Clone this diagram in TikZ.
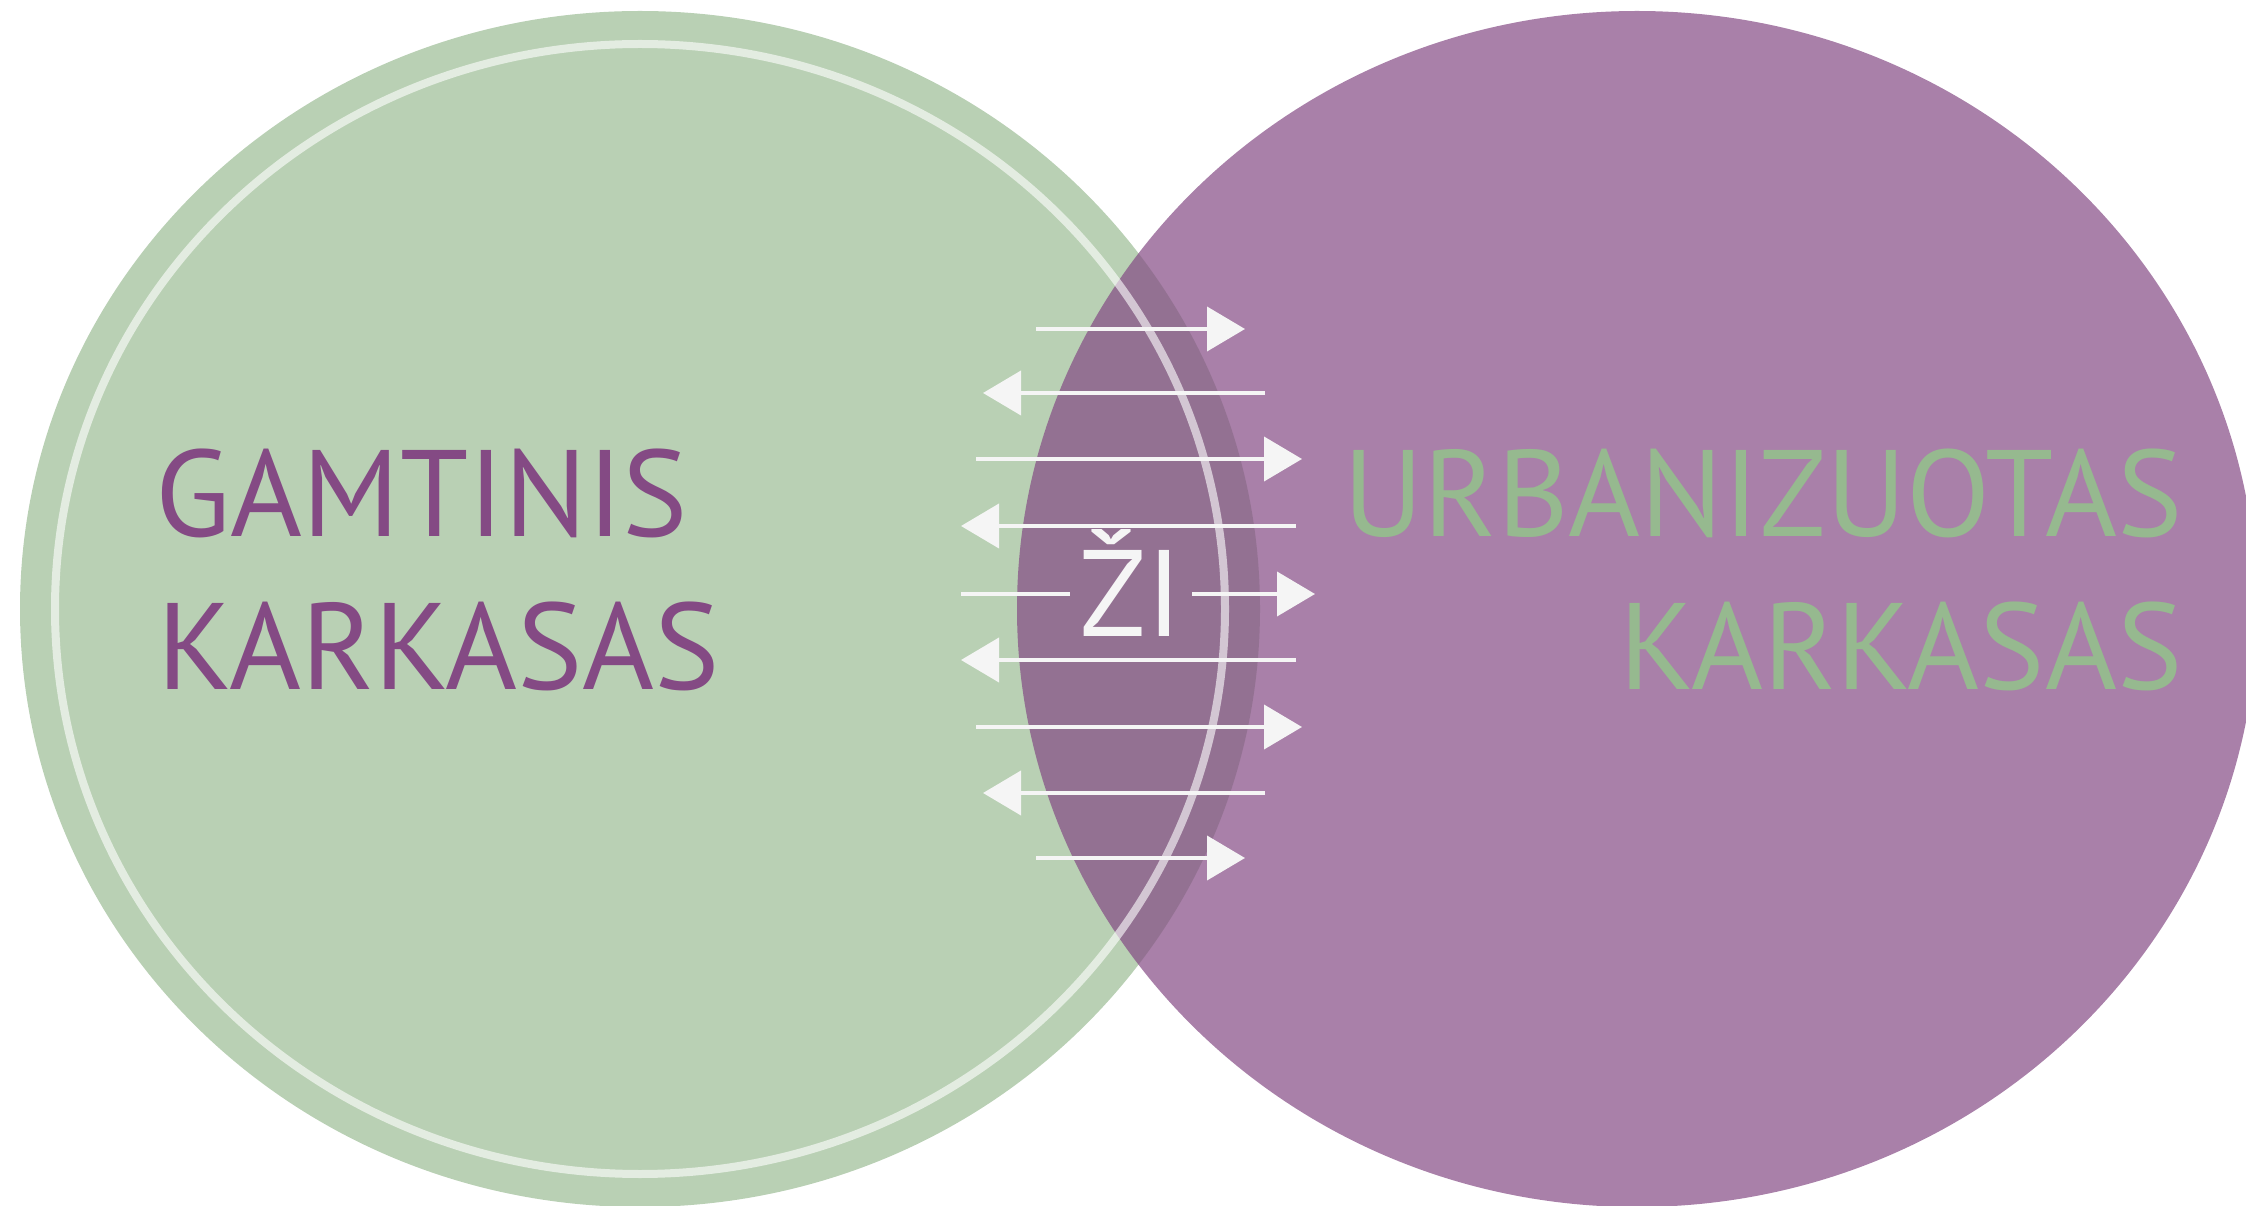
\documentclass[tikz,border=0pt]{standalone}
\usepackage{fontspec}
\setmainfont{PT Sans}
\usepackage{tikz}
\usetikzlibrary{arrows.meta}

\definecolor{gamta}{RGB}{185,208,180}
\definecolor{miestas}{RGB}{132,74,132}
\definecolor{gamtatxt}{RGB}{150,185,143}
\definecolor{rodykle}{RGB}{245,245,245}

\begin{document}
\begin{tikzpicture}[x=0.1mm, y=-0.1mm,
  flow/.style={draw=rodykle, line width=0.4mm},
  flowarrow/.style={flow, -{Triangle[length=3.8mm,width=4.4mm]}},
  lbl/.style={inner sep=0pt, font=\fontsize{35}{40}\selectfont},]
\useasboundingbox (0,0) rectangle (2246,1206);
% ellipses
\fill[gamta] (640,609) ellipse [x radius=620, y radius=598];
\fill[miestas, opacity=0.7] (1637,609) ellipse [x radius=620, y radius=598];
\draw[white, opacity=0.6, line width=0.8mm] (640,609) ellipse [x radius=585, y radius=565];
% labels
\node[lbl, text=miestas, anchor=base west] (gamt) at (155,537) {GAMTINIS};
\node[lbl, text=miestas, anchor=base west] (kark1) at (157,689) {KARKASAS};
\node[lbl, text=gamtatxt, anchor=base east] (urb) at (2183,537) {URBANIZUOTAS};
\node[lbl, text=gamtatxt, anchor=base east] (kark2) at (2183,689) {KARKASAS};
\node[lbl, text=rodykle, inner xsep=0.9mm, text height=8.6mm, text depth=0pt] (zi) at (1131,594) {ŽI};
% arrows
\foreach \y/\xa/\xb [count=\i] in {329/1036/1245, 393/1265/983, 459/976/1302, 526/1296/961,
    660/1296/961, 727/976/1302, 793/1265/983, 858/1036/1245}{
  \coordinate (s\i) at (\xa,\y);
  \coordinate (t\i) at (\xb,\y);
  \draw[flowarrow] (s\i) -- (t\i);
}
\coordinate (s0) at (961,594);
\coordinate (t0) at (1315,594);
\draw[flow] (s0) -- (zi.west);
\draw[flowarrow] (zi.east) -- (t0);
\end{tikzpicture}
\end{document}
